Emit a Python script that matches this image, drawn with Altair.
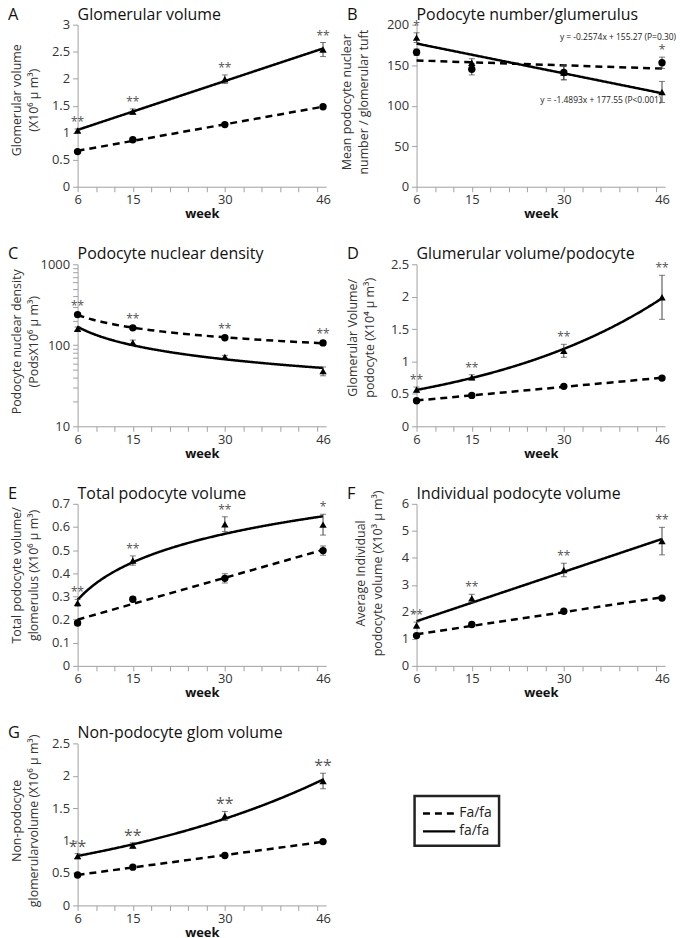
import altair as alt
import pandas as pd

FONT = "Open Sans"

weeks = [6, 15, 30, 46]
groups = ["Fa/fa", "fa/fa"]
marker_shapes = ["circle", "triangle-up"]

# ---- panel values (means and error bars) ----
a_Fa = [0.65, 0.87, 1.15, 1.48]
a_Fa_err = [0.02, 0.02, 0.03, 0.02]
a_fa = [1.04, 1.39, 1.99, 2.54]
a_fa_err = [0.03, 0.05, 0.08, 0.13]
a_stars = ["**", "**", "**", "**"]

b_Fa = [166, 145, 141, 153]
b_Fa_err = [4, 7, 9, 7]
b_fa = [184, 153, 141, 117]
b_fa_err = [6, 5, 9, 13]
b_stars = ["*", "", "", "*"]

c_Fa = [239, 164, 124, 107]
c_Fa_err = [10, 8, 5, 5]
c_fa = [160, 108, 72, 48]
c_fa_err = [8, 8, 3, 6]
c_stars = ["**", "**", "**", "**"]

d_Fa = [0.395, 0.477, 0.616, 0.744]
d_Fa_err = [0.02, 0.02, 0.02, 0.02]
d_fa = [0.565, 0.755, 1.165, 1.99]
d_fa_err = [0.04, 0.04, 0.1, 0.34]
d_stars = ["**", "**", "**", "**"]

e_Fa = [0.185, 0.288, 0.378, 0.498]
e_Fa_err = [0.01, 0.01, 0.02, 0.02]
e_fa = [0.272, 0.455, 0.612, 0.61]
e_fa_err = [0.015, 0.02, 0.032, 0.045]
e_stars = ["**", "**", "**", "*"]

f_Fa = [1.12, 1.53, 2.02, 2.51]
f_Fa_err = [0.05, 0.05, 0.05, 0.05]
f_fa = [1.5, 2.5, 3.55, 4.62]
f_fa_err = [0.12, 0.15, 0.25, 0.51]
f_stars = ["**", "**", "**", "**"]

g_Fa = [0.47, 0.59, 0.77, 0.985]
g_Fa_err = [0.02, 0.02, 0.02, 0.02]
g_fa = [0.76, 0.925, 1.38, 1.92]
g_fa_err = [0.04, 0.04, 0.07, 0.12]
g_stars = ["**", "**", "**", "**"]

# regression equations shown in panel B
eq_text = ["y = -0.2574x + 155.27 (P=0.30)", "y = -1.4893x + 177.55 (P<0.001)"]
eq_week = [48.3, 45.9]
eq_value = [184.5, 106.6]

x_ticks = list(range(6, 46, 3)) + [46]
x_labels = [6, 15, 30, 46]

W, H = 250, 163


def x_enc(field="week"):
    return alt.X(
        f"{field}:Q",
        scale=alt.Scale(domain=[6, 46.5], nice=False, zero=False),
        axis=alt.Axis(
            values=x_ticks,
            labelExpr="indexof(%s, datum.value) >= 0 ? datum.label : ''" % str(x_labels),
            tickOpacity={"condition": {"test": "datum.value == 46", "value": 0}, "value": 1},
            labelOverlap=False,
            labelFlush=False,
            title="week",
            titleFontWeight="bold",
            titleFontSize=13,
            titleColor="#111",
            titlePadding=1,
            labelPadding=2,
        ),
    )


def make_panel(letter, title, ytitle, title_x, title_dy, Fa, Fa_err, fa, fa_err, stars,
               ydomain, yvals, methods, ytype="linear", star_size=12, star_dy=-3,
               label_expr="'' + datum.value", extra=None):
    rows = []
    for g, shp, vals, errs in ((groups[0], marker_shapes[0], Fa, Fa_err),
                               (groups[1], marker_shapes[1], fa, fa_err)):
        for w, v, e in zip(weeks, vals, errs):
            rows.append(dict(week=w, group=g, kind=shp, value=v, lo=v - e, hi=v + e))
    df = pd.DataFrame(rows)
    top = df.groupby("week")["hi"].max()
    sdf = pd.DataFrame({"week": weeks, "value": [top[w] for w in weeks], "star": stars})
    sdf = sdf[sdf["star"] != ""]

    axis_kw = dict(
        values=yvals,
        title=ytitle,
        titleX=title_x,
        titleY=H / 2 + title_dy,
        titleBaseline="top",
        titleFontSize=12.5,
        titleFontWeight="normal",
        titleColor="#333",
        titleLineHeight=17,
        labelFlush=False,
        labelOverlap=False,
        labelExpr=label_expr,
    )
    if ytype == "log":
        yscale = alt.Scale(domain=ydomain, type="log", nice=False)
    else:
        yscale = alt.Scale(domain=ydomain, nice=False, zero=False)

    def y_enc(field):
        return alt.Y(f"{field}:Q", scale=yscale, axis=alt.Axis(**axis_kw))

    dash = alt.StrokeDash(
        "group:N",
        scale=alt.Scale(domain=groups, range=[[7, 5], [1, 0]]),
        legend=alt.Legend(
            orient="none", legendX=339, legendY=776, title=None,
            symbolType="M-1,0H2.6", symbolSize=324, symbolStrokeWidth=2.5,
            symbolStrokeColor="black", labelFontSize=14, labelFont=FONT,
            labelColor="#222", labelOffset=17, padding=7, rowPadding=0,
            fillColor="white",
        ),
    )

    base = alt.Chart(df)
    layers = []
    for g, m in zip(groups, methods):
        layers.append(
            base.transform_filter(alt.datum.group == g)
            .transform_regression(on="week", regression="value", method=m, groupby=["group"])
            .mark_line(color="black", strokeWidth=2.5)
            .encode(x=x_enc(), y=y_enc("value"), strokeDash=dash)
        )
    layers.append(base.mark_rule(color="#444", strokeWidth=1).encode(
        x=x_enc(), y=y_enc("lo"), y2="hi:Q"))
    for f in ("lo", "hi"):
        layers.append(base.mark_tick(orient="horizontal", size=6, thickness=1, color="#444").encode(
            x=x_enc(), y=y_enc(f)))
    layers.append(base.mark_point(filled=True, opacity=1, color="black", size=55).encode(
        x=x_enc(), y=y_enc("value"), shape=alt.Shape("kind:N", scale=None)))
    layers.append(alt.Chart(sdf).mark_text(font=FONT, fontSize=star_size, color="#555",
                                           baseline="alphabetic", dy=star_dy).encode(
        x=x_enc(), y=y_enc("value"), text="star:N"))
    head = pd.DataFrame({"t": [letter, title], "fs": [16.5, 16], "off": [-70, 0]})
    layers.append(alt.Chart(head).mark_text(
        font=FONT, color="#111", align="left", baseline="alphabetic").encode(
        x=alt.X("off:Q", scale=None), y=alt.value(-5), text="t:N",
        size=alt.Size("fs:Q", scale=None, legend=None)))
    if extra is not None:
        layers.append(extra(x_enc, y_enc))

    return alt.layer(*layers).properties(width=W, height=H)


def b_extra(x_enc, y_enc):
    edf = pd.DataFrame({"week": eq_week, "value": eq_value, "t": eq_text})
    return alt.Chart(edf).mark_text(font=FONT, fontSize=8.5, color="#222", align="right",
                                    baseline="middle").encode(
        x=x_enc(), y=y_enc("value"), text="t:N")


lin = ["linear", "linear"]
pA = make_panel("A", "Glomerular volume", ["Glomerular volume", "(X10⁶ μ m³)"], -67, -6,
                a_Fa, a_Fa_err, a_fa, a_fa_err, a_stars, [0, 3], [0, 0.5, 1, 1.5, 2, 2.5, 3], lin)
pB = make_panel("B", "Podocyte number/glumerulus", ["Mean podocyte nuclear", "number / glomerular tuft"], -76, -4,
                b_Fa, b_Fa_err, b_fa, b_fa_err, b_stars, [0, 200], [0, 50, 100, 150, 200], lin,
                extra=b_extra)
c_vals = [10, 20, 30, 40, 50, 60, 70, 80, 90, 100, 200, 300, 400, 500, 600, 700, 800, 900, 1000]
pC = make_panel("C", "Podocyte nuclear density", ["Podocyte nuclear density", "(PodsX10⁶ μ m³)"], -67, -4,
                c_Fa, c_Fa_err, c_fa, c_fa_err, c_stars, [10, 1000], c_vals, ["pow", "pow"], ytype="log",
                label_expr="indexof([10, 100, 1000], datum.value) >= 0 ? '' + datum.value : ''")
pD = make_panel("D", "Glumerular volume/podocyte", ["Glomerular Volume/", "podocyte  (X10⁴ μ m³)"], -70, -8,
                d_Fa, d_Fa_err, d_fa, d_fa_err, d_stars, [0, 2.5], [0, 0.5, 1, 1.5, 2, 2.5], ["linear", "exp"])
pE = make_panel("E", "Total podocyte volume", ["Total podocyte volume/", "glomerulus (X10⁶ μ m³)"], -67, -10,
                e_Fa, e_Fa_err, e_fa, e_fa_err, e_stars, [0, 0.7], [0, 0.1, 0.2, 0.3, 0.4, 0.5, 0.6, 0.7],
                ["linear", "log"])
pF = make_panel("F", "Individual podocyte volume", ["Average Individual", "podocyte volume (X10³ μ m³)"], -62, -12,
                f_Fa, f_Fa_err, f_fa, f_fa_err, f_stars, [0, 6], [0, 1, 2, 3, 4, 5, 6], lin)
pG = make_panel("G", "Non-podocyte glom volume", ["Non-podocyte", "glomerularvolume (X10⁶ μ m³)"], -67, -4,
                g_Fa, g_Fa_err, g_fa, g_fa_err, g_stars, [0, 2.5], [0, 0.5, 1, 1.5, 2, 2.5],
                ["linear", "exp"], star_size=16, star_dy=-2)

chart = alt.concat(pA, pB, pC, pD, pE, pF, pG, columns=2,
                   spacing={"row": 78, "column": 91}, bounds="flush").properties(
    padding={"left": 0, "top": -4, "right": 0, "bottom": 0}
).configure_view(stroke=None).configure_axis(
    labelFont=FONT, titleFont=FONT, labelFontSize=13, labelColor="#333",
    domainColor="#a0a0a0", tickColor="#a0a0a0", tickSize=5, grid=False, labelPadding=3,
).configure_legend(strokeColor="#222", strokeWidth=2.5)

chart.save("out.html", embed_options={"renderer": "svg", "actions": False})
